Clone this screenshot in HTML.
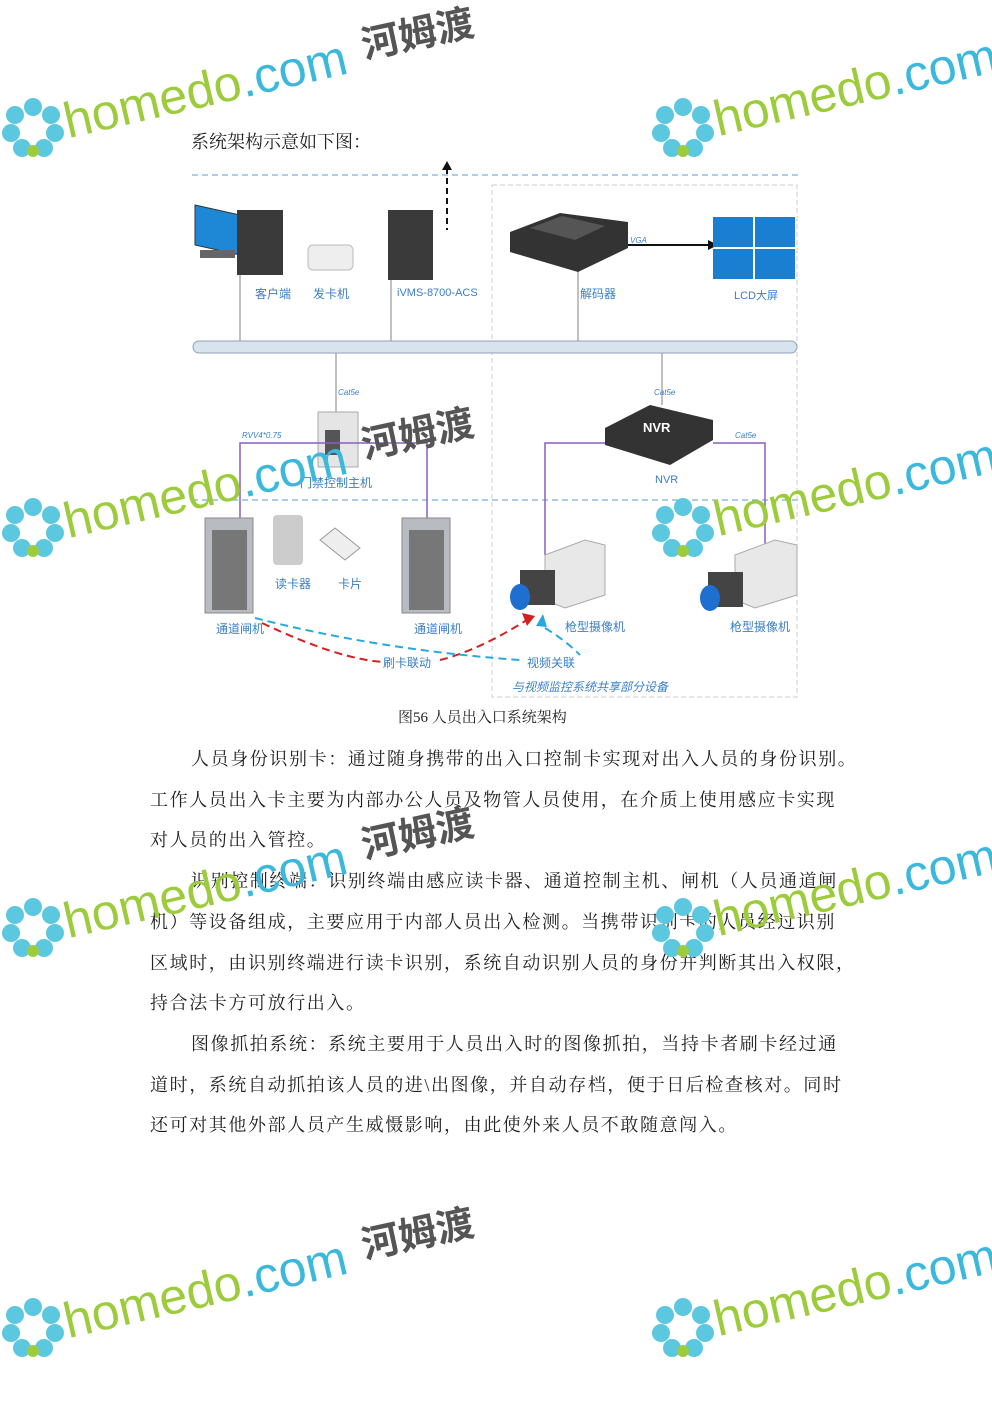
<!DOCTYPE html>
<html><head><meta charset="utf-8"><style>
body{margin:0;background:#fff;}
#p{position:relative;width:992px;height:1403px;overflow:hidden;background:#fff;font-family:"Liberation Serif","Noto Serif CJK SC",serif;}
.t{position:absolute;left:150px;font-size:18px;color:#222;line-height:40.7px;letter-spacing:1.6px;white-space:nowrap;}
.t div.i{padding-left:41px;}
.lb{position:absolute;font-family:"Liberation Sans","Noto Sans CJK SC",sans-serif;font-size:12px;color:#3a7fc4;white-space:nowrap;}
.sm{font-size:8px;font-style:italic;}
.wm{position:absolute;transform:rotate(-13deg);transform-origin:0 100%;white-space:nowrap;font-family:"Liberation Sans","DejaVu Sans",sans-serif;line-height:1;}
.wm .h{color:#9ccc3c;font-size:50px;}
.wm .c{color:#3cb8dc;font-size:50px;}
.cn{position:absolute;color:#555;font-family:"Noto Sans CJK SC",sans-serif;font-weight:bold;font-size:38px;transform:rotate(-12deg);white-space:nowrap;line-height:1;}
.fl{position:absolute;width:62px;height:62px;}
</style></head><body><div id="p">

<div style="position:absolute;left:191px;top:128px;font-size:18px;color:#222">系统架构示意如下图：</div>

<svg width="992" height="720" style="position:absolute;left:0;top:0" xmlns="http://www.w3.org/2000/svg">
<line x1="192" y1="175" x2="798" y2="175" stroke="#5a9bd5" stroke-dasharray="6,4"/>
<line x1="192" y1="500" x2="798" y2="500" stroke="#5a9bd5" stroke-dasharray="6,4"/>
<rect x="492" y="185" width="305" height="512" fill="none" stroke="#ccc" stroke-dasharray="5,3"/>
<line x1="447" y1="168" x2="447" y2="230" stroke="#111" stroke-width="2" stroke-dasharray="6,4"/>
<path d="M442 170 L447 161 L452 170Z" fill="#111"/>
<g stroke="#aaa" stroke-width="1.5">
<line x1="240" y1="270" x2="240" y2="345"/><line x1="391" y1="270" x2="391" y2="345"/><line x1="578" y1="270" x2="578" y2="345"/>
<line x1="336" y1="350" x2="336" y2="415"/><line x1="662" y1="350" x2="662" y2="405"/>
</g>
<rect x="193" y="341" width="604" height="12" rx="6" fill="#d8e3ee" stroke="#8fa3b8"/>
<path d="M195 205 L240 215 L240 255 L195 245Z" fill="#1e88d6" stroke="#333"/>
<rect x="237" y="210" width="46" height="65" fill="#3a3a3a"/>
<rect x="200" y="250" width="35" height="8" fill="#666"/>
<rect x="308" y="245" width="45" height="25" rx="5" fill="#eee" stroke="#bbb"/>
<rect x="388" y="210" width="45" height="70" fill="#3a3a3a"/>
<path d="M510 232 L560 213 L628 222 L628 248 L578 272 L510 252Z" fill="#333"/>
<path d="M530 228 L562 216 L605 226 L575 240Z" fill="#555"/>
<line x1="628" y1="245" x2="712" y2="245" stroke="#111" stroke-width="2"/>
<path d="M708 240 L718 245 L708 250Z" fill="#111"/>
<g fill="#1a7fd0"><rect x="713" y="217" width="40" height="30"/><rect x="755" y="217" width="40" height="30"/><rect x="713" y="249" width="40" height="30"/><rect x="755" y="249" width="40" height="30"/></g>
<rect x="318" y="412" width="40" height="55" fill="#e5e5e5" stroke="#aaa"/>
<rect x="325" y="430" width="15" height="25" fill="#555"/>
<path d="M605 428 L650 405 L713 420 L713 440 L670 465 L605 445Z" fill="#333"/>
<text x="643" y="432" font-family="Liberation Sans" font-weight="bold" font-size="13" fill="#fff">NVR</text>
<g stroke="#8a5fc0" stroke-width="1.5" fill="none">
<polyline points="240,530 240,443 427,443 427,530"/>
<polyline points="545,555 545,443 605,443"/><polyline points="713,443 765,443 765,560"/>
</g>
<g><rect x="205" y="518" width="48" height="95" fill="#b8bcc2" stroke="#888"/><rect x="212" y="530" width="35" height="80" fill="#777"/>
<rect x="402" y="518" width="48" height="95" fill="#b8bcc2" stroke="#888"/><rect x="409" y="530" width="35" height="80" fill="#777"/>
<rect x="273" y="515" width="30" height="50" rx="4" fill="#ccc"/>
<path d="M320 540 L335 528 L360 548 L345 560Z" fill="#eee" stroke="#999"/></g>
<path d="M545 555 L585 540 L605 545 L605 595 L565 608 L545 600Z" fill="#e8e8e8" stroke="#aaa"/>
<rect x="520" y="570" width="35" height="35" fill="#444"/><ellipse cx="520" cy="597" rx="10" ry="13" fill="#1e6fd0"/>
<path d="M735 555 L775 540 L797 545 L797 595 L755 608 L735 600Z" fill="#e8e8e8" stroke="#aaa"/>
<rect x="708" y="572" width="35" height="35" fill="#444"/><ellipse cx="710" cy="598" rx="10" ry="13" fill="#1e6fd0"/>
<path d="M262 623 Q340 660 385 662 M440 660 Q480 650 530 618" stroke="#d42020" stroke-width="2" fill="none" stroke-dasharray="8,5"/>
<path d="M522 613 L535 616 L527 626Z" fill="#d42020"/>
<path d="M255 618 Q380 650 520 660" stroke="#28a8e0" stroke-width="2" fill="none" stroke-dasharray="8,5"/>
<path d="M545 628 Q565 640 580 655" stroke="#28a8e0" stroke-width="2" fill="none" stroke-dasharray="8,5"/>
<path d="M536 626 L543 614 L547 627Z" fill="#28a8e0"/>
</svg>
<div class="lb" style="left:255px;top:285px">客户端</div>
<div class="lb" style="left:313px;top:285px">发卡机</div>
<div class="lb" style="left:397px;top:287px;font-size:11px">iVMS-8700-ACS</div>
<div class="lb" style="left:580px;top:285px">解码器</div>
<div class="lb" style="left:734px;top:287px;font-size:11px">LCD大屏</div>
<div class="lb sm" style="left:630px;top:236px">VGA</div>
<div class="lb sm" style="left:338px;top:388px">Cat5e</div>
<div class="lb sm" style="left:654px;top:388px">Cat5e</div>
<div class="lb sm" style="left:242px;top:431px">RVV4*0.75</div>
<div class="lb sm" style="left:735px;top:431px">Cat5e</div>
<div class="lb" style="left:300px;top:474px">门禁控制主机</div>
<div class="lb" style="left:655px;top:474px;font-size:11px">NVR</div>
<div class="lb" style="left:275px;top:575px">读卡器</div>
<div class="lb" style="left:338px;top:575px">卡片</div>
<div class="lb" style="left:216px;top:620px">通道闸机</div>
<div class="lb" style="left:414px;top:620px">通道闸机</div>
<div class="lb" style="left:565px;top:618px">枪型摄像机</div>
<div class="lb" style="left:730px;top:618px">枪型摄像机</div>
<div class="lb" style="left:383px;top:654px">刷卡联动</div>
<div class="lb" style="left:527px;top:654px">视频关联</div>
<div class="lb" style="left:512px;top:678px;font-style:italic">与视频监控系统共享部分设备</div>
<div style="position:absolute;left:398px;top:706px;font-size:15px;color:#222">图56 人员出入口系统架构</div>

<div class="t" style="top:739px">
<div class="i">人员身份识别卡：通过随身携带的出入口控制卡实现对出入人员的身份识别。</div>
<div>工作人员出入卡主要为内部办公人员及物管人员使用，在介质上使用感应卡实现</div>
<div>对人员的出入管控。</div>
<div class="i">识别控制终端：识别终端由感应读卡器、通道控制主机、闸机（人员通道闸</div>
<div>机）等设备组成，主要应用于内部人员出入检测。当携带识别卡的人员经过识别</div>
<div>区域时，由识别终端进行读卡识别，系统自动识别人员的身份并判断其出入权限，</div>
<div>持合法卡方可放行出入。</div>
<div class="i">图像抓拍系统：系统主要用于人员出入时的图像抓拍，当持卡者刷卡经过通</div>
<div>道时，系统自动抓拍该人员的进\出图像，并自动存档，便于日后检查核对。同时</div>
<div>还可对其他外部人员产生威慑影响，由此使外来人员不敢随意闯入。</div>
</div>

<svg width="0" height="0" style="position:absolute"><defs><g id="fl"><g fill="#5cc8e0"><circle cx="31" cy="10" r="9"/><circle cx="49" cy="18" r="9"/><circle cx="53" cy="36" r="9"/><circle cx="13" cy="18" r="9"/><circle cx="9" cy="36" r="9"/><circle cx="20" cy="51" r="9"/><circle cx="42" cy="51" r="9"/></g><circle cx="31" cy="33" r="6" fill="#fff"/><circle cx="31" cy="54" r="6" fill="#9ccc3c"/></g></defs></svg>

<div style="position:absolute;left:0;top:0">
<svg class="fl" style="left:2px;top:97px"><use href="#fl"/></svg>
<div class="wm" style="left:70px;top:96px"><span class="h">homedo</span><span class="c">.com</span></div>
<div class="cn" style="left:360px;top:12px">河姆渡</div>
<svg class="fl" style="left:652px;top:97px"><use href="#fl"/></svg>
<div class="wm" style="left:720px;top:94px"><span class="h">homedo</span><span class="c">.com</span></div>
</div>
<div style="position:absolute;left:0;top:400px">
<svg class="fl" style="left:2px;top:97px"><use href="#fl"/></svg>
<div class="wm" style="left:70px;top:96px"><span class="h">homedo</span><span class="c">.com</span></div>
<div class="cn" style="left:360px;top:12px">河姆渡</div>
<svg class="fl" style="left:652px;top:97px"><use href="#fl"/></svg>
<div class="wm" style="left:720px;top:94px"><span class="h">homedo</span><span class="c">.com</span></div>
</div>
<div style="position:absolute;left:0;top:800px">
<svg class="fl" style="left:2px;top:97px"><use href="#fl"/></svg>
<div class="wm" style="left:70px;top:96px"><span class="h">homedo</span><span class="c">.com</span></div>
<div class="cn" style="left:360px;top:12px">河姆渡</div>
<svg class="fl" style="left:652px;top:97px"><use href="#fl"/></svg>
<div class="wm" style="left:720px;top:94px"><span class="h">homedo</span><span class="c">.com</span></div>
</div>
<div style="position:absolute;left:0;top:1200px">
<svg class="fl" style="left:2px;top:97px"><use href="#fl"/></svg>
<div class="wm" style="left:70px;top:96px"><span class="h">homedo</span><span class="c">.com</span></div>
<div class="cn" style="left:360px;top:12px">河姆渡</div>
<svg class="fl" style="left:652px;top:97px"><use href="#fl"/></svg>
<div class="wm" style="left:720px;top:94px"><span class="h">homedo</span><span class="c">.com</span></div>
</div>
</div></body></html>
